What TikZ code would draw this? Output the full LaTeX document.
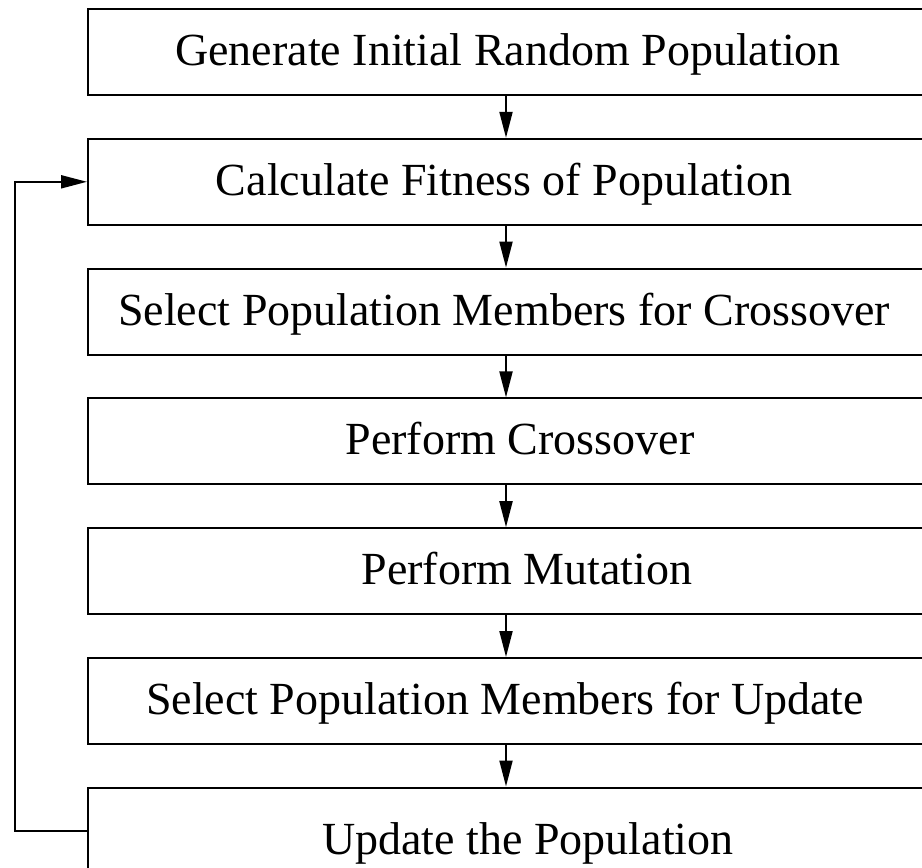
\documentclass[tikz,border=0pt]{standalone}
\usepackage{fontspec}
\setmainfont{Liberation Serif}
\usetikzlibrary{arrows.meta,calc}
\tikzset{
  box/.style={draw, line width=2pt, rectangle, anchor=north west, inner sep=0pt,
              minimum width=843pt, minimum height=86pt},
  lbl/.style={anchor=base, inner sep=0pt, font=\fontsize{46}{55}\selectfont},
  flow/.style={line width=2pt, -{Triangle[length=26pt,width=13pt]}},
}
\begin{document}
\begin{tikzpicture}[x=1pt,y=-1pt]
\useasboundingbox (0,0) rectangle (922,868);
\clip (0,0) rectangle (922,868);
\node[box] (b1) at (87,8) {};
\node[box] (b2) at (87,137.8) {};
\node[box] (b3) at (87,267.6) {};
\node[box] (b4) at (87,397.4) {};
\node[box] (b5) at (87,527.2) {};
\node[box] (b6) at (87,657) {};
\node[box] (b7) at (87,786.5) {};
\node[lbl] (t1) at (508,65.5) {Generate Initial Random Population};
\node[lbl] (t2) at (504,195.3) {Calculate Fitness of Population};
\node[lbl] (t3) at (504,325.1) {Select Population Members for Crossover};
\node[lbl] (t4) at (520,454.9) {Perform Crossover};
\node[lbl] (t5) at (527,584.7) {Perform Mutation};
\node[lbl] (t6) at (505,714.5) {Select Population Members for Update};
\node[lbl] (t7) at (528,854) {Update the Population};
\coordinate (ax) at (506,0);
\foreach \a/\b in {b1/b2,b2/b3,b3/b4,b4/b5,b5/b6,b6/b7}
  \draw[flow] (\a.south -| ax) -- (\b.north -| ax);
\coordinate (fb) at (15,0);
\draw[flow] (b7.west) -- (b7.west -| fb) -- (b2.west -| fb) -- (b2.west);
\end{tikzpicture}
\end{document}
